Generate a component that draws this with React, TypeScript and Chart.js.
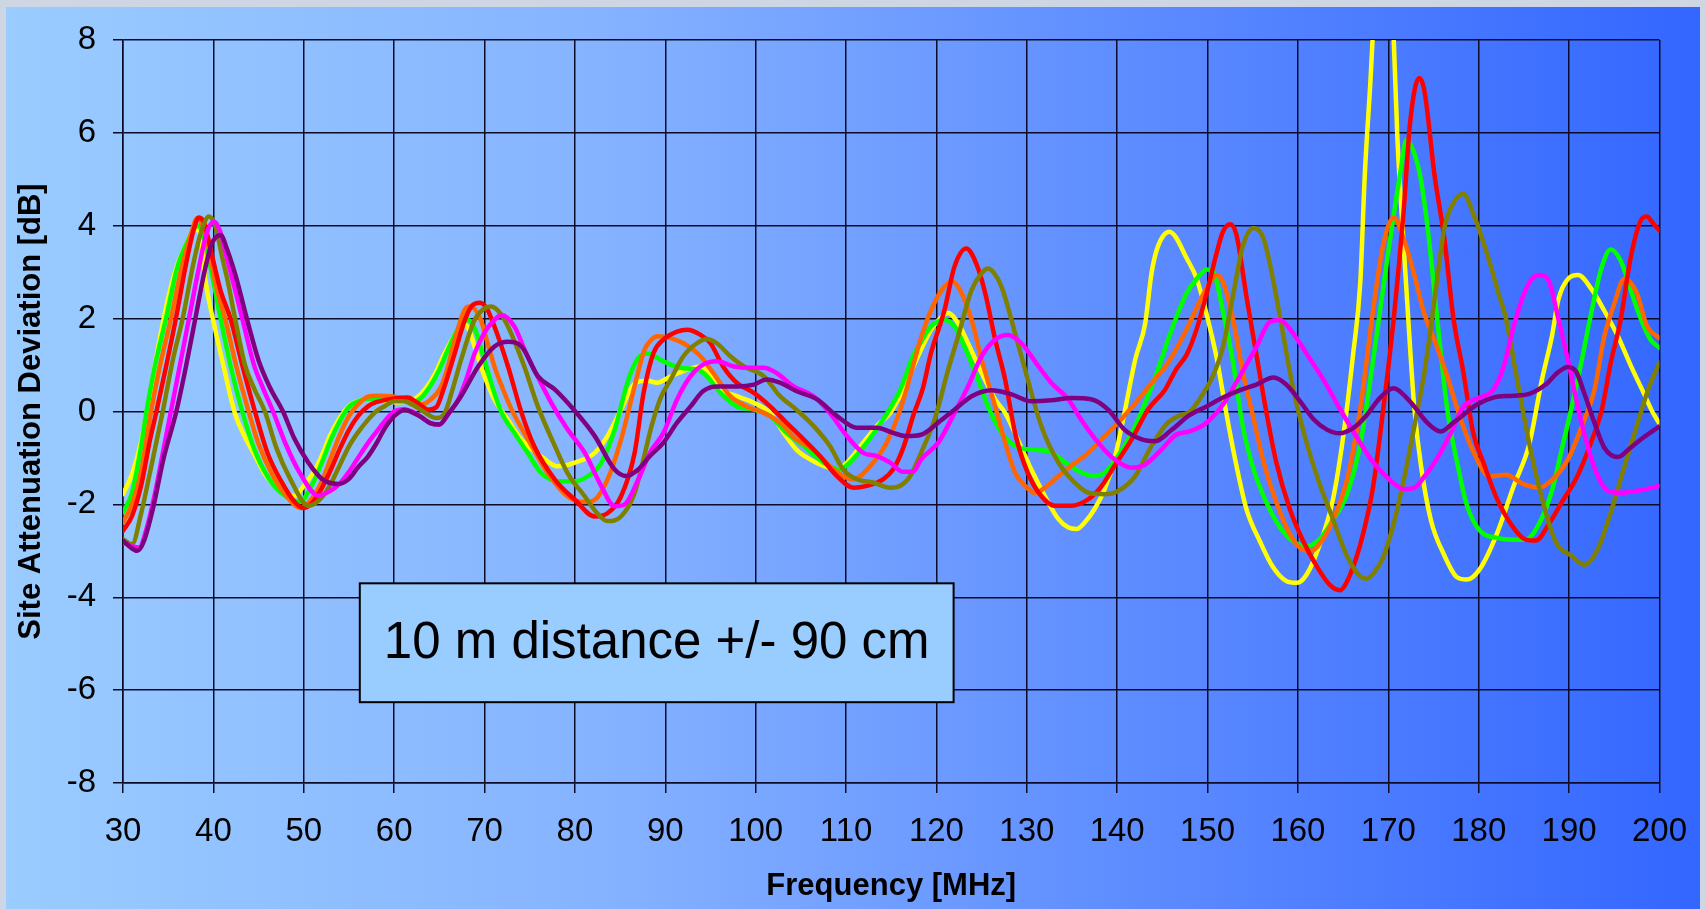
import React, { useEffect, useRef } from 'react';
import { Chart, registerables } from 'chart.js';

Chart.register(...registerables);

// ---------- data (frequency MHz, deviation dB) ----------
const xTickStep = 10;
const yTickStep = 2;
const xMin = 30;
const xMax = 200;
const yMin = -8;
const yMax = 8;

const xTitle = 'Frequency [MHz]';
const yTitle = 'Site Attenuation Deviation [dB]';
const boxText = '10 m distance +/- 90 cm';

const seriesNames = ['d1', 'd2', 'd3', 'd4', 'd5', 'd6', 'd7'];
const seriesColors = ['#ffff00', '#00ff00', '#ff6600', '#ff0000', '#808000', '#ff00ff', '#800080'];

const yellow: [number, number][] = [
  [30, -1.78], [31, -1.35], [32, -0.65], [33, 0.4], [34, 1.5], [35, 2.45], [36, 3.15], [37, 3.6], [38, 3.92], [38.6, 3.8],
  [39.1, 2.85], [40, 1.95], [41.1, 1.0], [42.4, -0.05], [43.5, -0.55], [44.6, -0.95], [45.7, -1.35], [46.8, -1.6], [47.9, -1.78], [49, -1.82],
  [50, -1.6], [51.2, -1.27], [52, -0.95], [53, -0.48], [54.9, 0.1], [56.3, 0.24], [58, 0.27], [60, 0.2], [61.5, 0.22], [62.5, 0.3],
  [63.5, 0.5], [64.5, 0.8], [65.6, 1.26], [67.1, 1.76], [67.8, 1.88], [68.4, 1.7], [68.9, 1.4], [70, 0.76], [71.1, 0.26], [72.6, -0.18],
  [74.1, -0.61], [76.3, -0.97], [78.1, -1.18], [80, -1.1], [82.2, -0.89], [83.6, -0.53], [85.1, 0.04], [86.6, 0.6], [88, 0.66], [89.1, 0.62],
  [90.6, 0.76], [92, 0.87], [93.9, 0.97], [94.6, 0.9], [95.7, 0.54], [97.9, 0.33], [99.8, 0.19], [101.6, -0.03], [103.1, -0.46], [104.5, -0.82],
  [106, -1.03], [107.5, -1.17], [109, -1.25], [110.1, -1.1], [111.9, -0.67], [113.4, -0.31], [114.9, -0.03], [116.3, 0.47], [117.8, 1.12], [119.4, 1.76],
  [120.6, 2.04], [121.3, 2.12], [122.4, 1.9], [123.5, 1.47], [125, 0.83], [126.5, 0.26], [127.6, -0.03], [129, -0.6], [130.5, -1.25], [132, -1.82],
  [133.5, -2.32], [134.6, -2.5], [135.5, -2.53], [136.4, -2.39], [137.5, -2.1], [138.6, -1.68], [139.7, -1.03], [140.8, -0.03], [142, 1.12], [143.1, 1.9],
  [143.8, 2.98], [144.5, 3.55], [145.8, 3.87], [146.5, 3.75], [147.6, 3.33], [148.8, 2.86], [149.9, 2.09], [151, 1.16], [152.1, -0.06], [153.2, -1.17],
  [154.3, -2.1], [155.8, -2.8], [157.2, -3.34], [158.7, -3.65], [159.9, -3.69], [161, -3.5], [162.4, -2.87], [163.9, -1.87], [165, -0.55], [166.1, 1.23],
  [166.9, 2.79], [167.4, 5.11], [168, 7.05], [168.6, 9.2], [169.4, 10.8], [170.1, 9.8], [170.6, 8.0], [171, 5.9], [171.7, 3.56], [172.4, 1.39],
  [172.9, 0.02], [173.6, -1.15], [174.7, -2.33], [176.2, -3.1], [177.6, -3.57], [178.7, -3.62], [180.1, -3.4], [182, -2.64], [183.8, -1.64], [185.6, -0.7],
  [187, 0.69], [188.1, 1.62], [188.8, 2.4], [189.9, 2.86], [191, 2.94], [192.5, 2.63], [193.9, 2.17], [195.4, 1.62], [196.8, 1.0], [198.3, 0.38],
  [199.2, 0.0], [200, -0.26],
];

const green: [number, number][] = [
  [30, -2.17], [31, -1.75], [32, -0.75], [32.6, 0], [33.5, 0.95], [34.75, 2.0], [36, 3.1], [37, 3.6], [38.3, 4.0], [39, 3.7],
  [40, 2.8], [40.8, 2.0], [42, 0.9], [43.2, 0], [44.5, -0.8], [46, -1.4], [47.5, -1.75], [49.5, -1.95], [51, -1.55], [52, -1.1],
  [53, -0.6], [54, -0.2], [55, 0.1], [56.3, 0.24], [58, 0.28], [60, 0.29], [61, 0.27], [62.3, 0.22], [63, 0.3], [64, 0.55],
  [65, 0.9], [66, 1.35], [67, 1.75], [68.2, 1.97], [69, 1.75], [69.7, 1.3], [70.2, 0.97], [71, 0.45], [71.9, -0.03], [73.3, -0.46],
  [74.8, -0.9], [76.3, -1.33], [78.1, -1.5], [80, -1.5], [81.4, -1.4], [82.9, -1.11], [84.4, -0.39], [85.9, 0.68], [87, 1.15], [88, 1.25],
  [89.8, 1.08], [91.7, 0.94], [93.5, 0.9], [94.6, 0.76], [96.1, 0.4], [97.9, 0.11], [99.8, 0.04], [101.6, -0.1], [103.4, -0.46], [105.3, -0.74],
  [107.5, -1.1], [109.3, -1.25], [110.4, -1.1], [112.3, -0.67], [114.1, -0.17], [116, 0.47], [117.4, 1.19], [118.3, 1.5], [119.4, 1.83], [120.9, 1.97],
  [122, 1.83], [123.1, 1.4], [124.6, 0.69], [125.7, 0.11], [127.2, -0.46], [128.7, -0.74], [130.5, -0.82], [132.4, -0.85], [133.8, -1.03], [135.7, -1.28],
  [137.5, -1.39], [138.6, -1.32], [140.1, -0.96], [142, -0.31], [143.4, 0.33], [144.5, 0.9], [146, 1.75], [147.7, 2.55], [148.8, 2.86], [149.9, 3.06],
  [150.6, 3.02], [151.7, 2.16], [152.8, 1.08], [153.9, -0.32], [155.1, -1.25], [156.5, -1.95], [158, -2.49], [159.5, -2.8], [161, -2.9], [162.4, -2.75],
  [163.9, -2.33], [165.4, -1.79], [166.9, -0.7], [168.3, 1.08], [169.8, 3.17], [171.3, 5.11], [172, 5.85], [172.8, 5.6], [173.6, 5.0], [174.4, 3.87],
  [175.4, 2.01], [176.5, 0.07], [177.6, -1.09], [178.7, -2.02], [180.1, -2.56], [182, -2.72], [183.8, -2.76], [185.2, -2.76], [186.7, -2.41], [188.1, -1.71],
  [189.2, -0.8], [190.3, 0.1], [191.4, 1.1], [192.5, 2.17], [193.6, 3.1], [194.6, 3.49], [195.7, 3.25], [196.8, 2.63], [197.9, 2.01], [199, 1.55],
  [200, 1.37],
];

const orange: [number, number][] = [
  [30, -2.39], [31, -2.0], [32, -1.3], [33.1, 0], [34, 0.9], [35.3, 2.0], [36.5, 3.1], [37.5, 3.8], [38.2, 4.16], [38.8, 4.0],
  [39.5, 3.5], [40.3, 2.7], [41.3, 2.0], [42.5, 1.0], [43.9, 0], [45, -0.7], [46.5, -1.35], [48, -1.8], [49.7, -2.08], [51, -1.85],
  [52, -1.5], [53, -1.0], [54, -0.5], [55, -0.1], [56, 0.15], [57.1, 0.32], [58, 0.34], [60, 0.32], [61.5, 0.25], [63, 0.15],
  [64, 0.25], [65.2, 0.54], [66, 1.0], [66.7, 1.54], [67.8, 2.19], [68.4, 2.26], [69.6, 1.97], [70.3, 1.5], [71.1, 0.97], [72, 0.5],
  [73, 0.04], [74.8, -0.6], [77, -1.33], [79.2, -1.83], [81.1, -1.95], [82.2, -1.9], [83.6, -1.47], [85.1, -0.61], [86.6, 0.54], [87.7, 1.33],
  [88.5, 1.55], [89.1, 1.62], [90.6, 1.58], [92, 1.47], [93.9, 1.19], [95.3, 0.83], [97.2, 0.33], [99, 0.11], [100.9, -0.03], [102.7, -0.24],
  [104.5, -0.6], [106.4, -0.82], [108.2, -1.17], [109.7, -1.39], [110.8, -1.46], [112.7, -1.17], [114.5, -0.67], [116, 0.04], [117.3, 0.9], [118, 1.4],
  [119.1, 2.04], [120.6, 2.62], [121.7, 2.8], [122.6, 2.62], [123.9, 1.97], [125, 1.12], [126.5, 0.11], [127.6, -0.67], [128.7, -1.32], [129.8, -1.6],
  [130.9, -1.75], [132, -1.64], [133.5, -1.39], [134.9, -1.17], [136.8, -0.89], [138.6, -0.53], [140.1, -0.24], [142, 0.18], [143.8, 0.61], [145.6, 1.04],
  [147.5, 1.7], [149.2, 2.4], [150.3, 2.79], [151, 2.94], [151.7, 2.79], [152.8, 2.01], [153.9, 0.85], [155.1, -0.16], [156.2, -1.09], [157.6, -1.95],
  [159.1, -2.64], [160.6, -2.98], [161.5, -3.0], [162.4, -2.85], [163.9, -2.33], [165.4, -1.48], [166.9, 0.07], [168.3, 2.17], [169.4, 3.56], [170.6, 4.18],
  [171.7, 3.72], [172.8, 3.0], [174, 2.09], [175.1, 1.54], [176.5, 0.77], [178, -0.16], [179.4, -0.86], [181.2, -1.4], [183, -1.36], [184.9, -1.56],
  [186.7, -1.64], [188.1, -1.48], [189.9, -1.02], [191.4, -0.32], [192.8, 0.46], [193.9, 1.62], [195, 2.32], [196.1, 2.86], [197.5, 2.55], [198.6, 1.85],
  [200, 1.58],
];

const red: [number, number][] = [
  [30, -2.57], [31, -2.25], [32, -1.6], [33, -0.6], [33.7, 0], [34.8, 1.0], [35.85, 2.0], [37, 3.2], [37.8, 3.9], [38.4, 4.18],
  [39, 4.05], [39.8, 3.4], [40.8, 2.6], [41.9, 2.0], [43.2, 1.0], [44.6, 0], [46, -0.9], [47.5, -1.5], [49, -1.95], [50, -2.08],
  [51, -1.95], [52, -1.65], [53, -1.25], [54, -0.8], [55, -0.4], [56, -0.1], [57.1, 0.11], [58, 0.2], [60, 0.28], [61.5, 0.3],
  [62.5, 0.2], [63.8, 0.04], [64.7, 0.1], [65.5, 0.5], [66.7, 1.25], [67.7, 1.9], [68.5, 2.25], [69.5, 2.34], [70.3, 2.2], [71.1, 1.83],
  [72.6, 0.97], [74.1, -0.03], [75.5, -0.75], [77.8, -1.47], [80, -1.9], [82.2, -2.26], [83.6, -2.19], [85.1, -1.83], [86.6, -0.9], [87.6, 0.4],
  [88.7, 1.26], [89.8, 1.55], [91.3, 1.72], [92.4, 1.76], [93.9, 1.65], [95, 1.47], [96.4, 0.97], [97.9, 0.62], [99.8, 0.4], [101.6, 0.11],
  [103.4, -0.24], [105.3, -0.6], [107.1, -0.96], [109, -1.39], [110.8, -1.64], [112.3, -1.6], [114.1, -1.46], [115.2, -1.25], [116.3, -0.8], [117.5, -0.05],
  [118.5, 0.5], [119.4, 1.26], [120.9, 2.19], [122, 3.12], [123.3, 3.51], [124.4, 3.19], [125.4, 2.55], [126.5, 1.55], [127.6, 0.69], [128.7, -0.46],
  [130.1, -1.32], [131.6, -1.82], [133.1, -2.03], [134.9, -2.03], [136.8, -1.89], [138.3, -1.6], [139.7, -1.17], [141.6, -0.6], [143.4, 0.04], [145.3, 0.47],
  [146.5, 0.9], [147.7, 1.23], [148.8, 1.78], [149.9, 2.55], [151, 3.41], [151.7, 3.87], [152.5, 4.03], [153.2, 3.8], [154.3, 2.48], [155.4, 1.23],
  [156.5, -0.01], [157.6, -1.09], [159.1, -2.1], [160.6, -2.8], [162.1, -3.34], [163.5, -3.73], [164.6, -3.85], [165.8, -3.5], [167.2, -2.64], [168.3, -1.64],
  [169.4, -0.01], [170.6, 2.01], [171.7, 4.34], [172.4, 6.2], [173.4, 7.18], [174, 6.9], [175.1, 5.11], [176.2, 3.72], [177.2, 2.01], [178.3, 0.85],
  [179.4, -0.47], [180.5, -1.09], [182, -1.87], [183.8, -2.49], [185.2, -2.76], [186.3, -2.78], [187.8, -2.41], [189.2, -1.95], [190.9, -1.4], [192.5, -0.63],
  [193.6, 0.02], [194.6, 1.04], [195.7, 1.97], [196.8, 3.3], [197.9, 4.1], [198.6, 4.2], [199.3, 4.05], [200, 3.9],
];

const olive: [number, number][] = [
  [30, -2.75], [31, -2.86], [32, -2.2], [33, -1.3], [34.4, 0], [35.5, 1.1], [36.6, 2.0], [37.8, 3.2], [38.7, 3.9], [39.5, 4.2],
  [40.2, 4.0], [41, 3.3], [41.6, 2.8], [42.4, 2.0], [43.5, 1.0], [44.5, 0.5], [45.7, 0], [47, -0.8], [48.5, -1.45], [50.5, -2.03],
  [52, -1.85], [53, -1.55], [54, -1.15], [55, -0.75], [56, -0.45], [57.1, -0.18], [58, 0.0], [59, 0.12], [60, 0.22], [61, 0.22],
  [62, 0.15], [63, 0.03], [64.7, -0.14], [65.6, -0.03], [66.5, 0.5], [67.4, 1.11], [68.9, 1.97], [70, 2.22], [70.75, 2.26], [71.8, 2.1],
  [72.6, 1.83], [74.4, 0.97], [75.9, 0.11], [77.8, -0.75], [79.2, -1.33], [81.1, -1.83], [82.5, -2.2], [83.6, -2.36], [85.1, -2.26], [86.6, -1.76],
  [87.5, -1.1], [88.5, -0.3], [89.5, 0.3], [90.6, 0.69], [92, 1.19], [93.5, 1.47], [94.6, 1.56], [95.7, 1.47], [97.2, 1.19], [98.7, 0.97],
  [100.9, 0.76], [102.7, 0.33], [104.5, 0.04], [106.4, -0.31], [108.2, -0.74], [109.7, -1.25], [111.2, -1.46], [113, -1.53], [114.9, -1.64], [116, -1.6],
  [117.1, -1.39], [118.3, -0.89], [119.8, -0.17], [121.3, 0.9], [122.4, 1.62], [123.9, 2.62], [125, 2.98], [125.7, 3.08], [126.3, 3.0], [127.2, 2.69],
  [128.7, 1.69], [130.1, 0.69], [131.6, -0.31], [133.5, -1.1], [135.3, -1.53], [136.8, -1.75], [138.6, -1.78], [140.1, -1.71], [142, -1.39], [143.8, -0.74],
  [145.6, -0.24], [147, -0.08], [148, -0.01], [149.5, 0.38], [150.6, 0.77], [151.7, 1.39], [152.8, 2.48], [153.9, 3.56], [155.1, 3.95], [156.2, 3.72],
  [157.3, 2.79], [158.4, 1.62], [159.5, 0.46], [161, -0.7], [162.4, -1.56], [163.9, -2.33], [165.4, -3.1], [166.9, -3.55], [167.6, -3.6], [168.5, -3.45],
  [169.4, -3.15], [170.6, -2.41], [171.7, -1.48], [172.8, -0.4], [174, 0.85], [175.1, 2.4], [176.2, 3.95], [177.2, 4.49], [178.3, 4.69], [179.4, 4.26],
  [180.9, 3.41], [182.3, 2.48], [183, 2.01], [184.1, 0.85], [185.6, -0.7], [187, -1.87], [188.5, -2.8], [190.3, -3.11], [191.7, -3.3], [193.2, -2.95],
  [194.6, -2.18], [196.1, -1.2], [197.5, -0.3], [198.8, 0.5], [200, 1.05],
];

const magenta: [number, number][] = [
  [30, -2.82], [31, -2.9], [31.8, -2.93], [32.5, -2.6], [33.5, -1.8], [34.5, -0.8], [35.3, 0], [36.3, 1.0], [37.3, 2.0], [38.3, 3.0],
  [39.2, 3.8], [40.05, 4.09], [40.7, 3.9], [41.5, 3.3], [42.3, 2.7], [43.2, 2.0], [44.5, 1.0], [45.5, 0.5], [46.6, 0], [48, -0.7],
  [49.5, -1.3], [51.6, -1.81], [53, -1.7], [54, -1.55], [55, -1.3], [56, -1.0], [57.1, -0.68], [58, -0.45], [59, -0.2], [60, 0.0],
  [61, 0.05], [62, 0.0], [63, -0.12], [64, -0.25], [65, -0.28], [66, -0.05], [67.1, 0.26], [68, 0.7], [68.9, 1.25], [70, 1.7],
  [70.75, 1.9], [71.9, 2.08], [73.3, 1.83], [74.5, 1.3], [75.5, 0.9], [77.4, 0.18], [79.2, -0.39], [81.1, -0.89], [82.9, -1.6], [84.4, -2.04],
  [85.5, -2.0], [87, -1.47], [88.3, -0.89], [89.8, -0.46], [91.3, 0.26], [92.8, 0.76], [94.2, 1.01], [95.7, 1.08], [97.6, 0.97], [99.4, 0.94],
  [100.9, 0.94], [102.3, 0.83], [104.2, 0.54], [106.4, 0.33], [108.2, -0.03], [110.1, -0.53], [111.9, -0.89], [113.4, -0.96], [114.9, -1.1], [116.3, -1.3],
  [117.4, -1.3], [118.3, -1.03], [120.2, -0.67], [122, -0.03], [123.5, 0.54], [125, 1.19], [126.5, 1.55], [127.9, 1.65], [129.4, 1.47], [131.3, 0.97],
  [132.7, 0.62], [134.6, 0.26], [136, -0.17], [137.9, -0.67], [139.7, -1.03], [141.6, -1.21], [143.1, -1.14], [144.9, -0.82], [146.5, -0.5], [148, -0.43],
  [149.9, -0.24], [151.7, 0.15], [153.6, 0.77], [155.4, 1.39], [156.9, 1.93], [158, 1.97], [159.1, 1.78], [161, 1.23], [162.8, 0.69], [164.6, 0.07],
  [166.5, -0.55], [168.3, -1.09], [170.2, -1.48], [171.7, -1.67], [172.9, -1.64], [174, -1.4], [175.4, -1.01], [176.9, -0.47], [178.3, 0.1], [180.1, 0.3],
  [181.6, 0.46], [182.7, 0.93], [183.8, 1.78], [184.9, 2.48], [185.9, 2.86], [186.8, 2.94], [187.8, 2.79], [188.8, 2.01], [189.9, 1.08], [191, 0.07],
  [192.1, -0.78], [193.2, -1.4], [194.3, -1.71], [195.7, -1.75], [197.2, -1.72], [198.3, -1.68], [200, -1.6],
];

const purple: [number, number][] = [
  [30, -2.78], [31, -2.95], [31.6, -3.0], [32.3, -2.8], [33.3, -2.1], [34.5, -1.0], [35.9, 0], [37, 1.0], [38, 2.0], [39, 3.0],
  [39.8, 3.6], [40.8, 3.8], [41.5, 3.5], [42.5, 2.9], [43.7, 2.0], [45, 1.1], [46.3, 0.5], [47.7, 0], [49, -0.6], [50.5, -1.1],
  [52, -1.45], [53.8, -1.56], [55, -1.45], [56, -1.2], [57.1, -0.97], [58, -0.7], [59, -0.35], [60, -0.1], [61.2, 0.04], [62, -0.02],
  [63, -0.12], [64, -0.25], [65, -0.28], [66, -0.05], [67.4, 0.33], [69.3, 0.97], [71.1, 1.4], [72.6, 1.5], [74.1, 1.4], [75.9, 0.76],
  [77.8, 0.47], [80, 0.01], [82.2, -0.53], [84.4, -1.25], [85.7, -1.39], [87, -1.25], [88.3, -0.96], [89.8, -0.67], [91.3, -0.24], [92.8, 0.11],
  [94.2, 0.44], [95.7, 0.54], [97.9, 0.54], [99.8, 0.58], [101.2, 0.69], [102.7, 0.62], [104.5, 0.44], [106.8, 0.26], [109, -0.1], [111.2, -0.35],
  [113.4, -0.35], [115.2, -0.46], [116.7, -0.53], [118.3, -0.5], [120.2, -0.24], [122, 0.04], [123.9, 0.33], [126.1, 0.46], [128.3, 0.37], [130.5, 0.22],
  [132.7, 0.24], [134.9, 0.29], [137.2, 0.26], [139, 0.04], [140.8, -0.39], [142.7, -0.6], [144.2, -0.64], [146, -0.4], [148, -0.08], [149.9, 0.11],
  [151.7, 0.3], [153.6, 0.46], [155.4, 0.58], [157.3, 0.73], [158.7, 0.58], [160.2, 0.23], [161.7, -0.16], [163.2, -0.39], [164.6, -0.47], [166.1, -0.36],
  [167.6, -0.08], [169.1, 0.3], [170.6, 0.5], [172, 0.3], [172.9, 0.1], [174.3, -0.24], [175.8, -0.43], [177.2, -0.24], [178.7, -0.01], [179.8, 0.15],
  [181.6, 0.3], [183.8, 0.34], [185.6, 0.38], [187.4, 0.58], [188.8, 0.85], [189.9, 0.96], [190.8, 0.85], [191.7, 0.38], [192.8, -0.24], [193.9, -0.78],
  [195.4, -0.98], [196.8, -0.78], [198.3, -0.55], [200, -0.32],
];

const allSeries = [yellow, green, orange, red, olive, magenta, purple];

// annotation box corners in data units
const boxF0 = 56.2;
const boxF1 = 121.9;
const boxV0 = -3.7;
const boxV1 = -6.26;

const FONT = '"Liberation Sans", Arial, Helvetica, sans-serif';
const W = 1706;
const H = 909;
const PLOT_LEFT = 123;
const PLOT_RIGHT = 1667;
const PLOT_TOP = 40;
const PLOT_BOTTOM = 783;

const boxPlugin = {
  id: 'textBox',
  afterDraw(chart: any) {
    const { ctx, scales } = chart;
    const xs = scales.x;
    const ys = scales.y;
    const x0 = xs.getPixelForValue(boxF0);
    const x1 = xs.getPixelForValue(boxF1);
    const y0 = ys.getPixelForValue(boxV0);
    const y1 = ys.getPixelForValue(boxV1);
    ctx.save();
    ctx.fillStyle = '#99ccff';
    ctx.fillRect(x0, y0, x1 - x0, y1 - y0);
    ctx.lineWidth = 2;
    ctx.strokeStyle = '#000000';
    ctx.strokeRect(x0, y0, x1 - x0, y1 - y0);
    ctx.fillStyle = '#000000';
    ctx.font = `51px ${FONT}`;
    ctx.textAlign = 'center';
    ctx.textBaseline = 'middle';
    ctx.fillText(boxText, (x0 + x1) / 2, (y0 + y1) / 2 + 1);
    ctx.restore();
  },
};

export default function App() {
  const canvasRef = useRef<HTMLCanvasElement | null>(null);

  useEffect(() => {
    document.body.style.margin = '0';
    const canvas = canvasRef.current;
    if (!canvas) return;
    const gridColor = '#0c0c28';
    const n = allSeries.length;
    const chart = new Chart(canvas, {
      type: 'line',
      data: {
        datasets: allSeries.map((s, i) => ({
          label: seriesNames[i],
          data: s.map(([x, y]) => ({ x, y })),
          borderColor: seriesColors[i],
          backgroundColor: seriesColors[i],
          borderWidth: 4.5,
          pointRadius: 0,
          fill: false,
          order: n - 1 - i,
          cubicInterpolationMode: 'monotone' as const,
          borderCapStyle: 'round' as const,
          borderJoinStyle: 'round' as const,
        })),
      },
      options: {
        responsive: false,
        maintainAspectRatio: false,
        animation: false,
        devicePixelRatio: 1,
        layout: { padding: { top: PLOT_TOP, right: W - PLOT_RIGHT, left: 0, bottom: 0 } },
        plugins: {
          legend: { display: false },
          tooltip: { enabled: false },
        },
        scales: {
          x: {
            type: 'linear',
            min: xMin,
            max: xMax,
            afterFit(scale: any) {
              scale.height = H - PLOT_BOTTOM;
            },
            ticks: {
              stepSize: xTickStep,
              autoSkip: false,
              maxRotation: 0,
              color: '#000000',
              padding: 19,
              font: { family: FONT, size: 33 },
            },
            grid: { color: gridColor, lineWidth: 1.5, tickLength: 10, tickColor: gridColor },
            border: { display: true, color: gridColor, width: 1.5 },
            title: {
              display: true,
              text: xTitle,
              color: '#000000',
              font: { family: FONT, size: 31, weight: 'bold' },
              padding: { top: 0, bottom: 4 },
            },
          },
          y: {
            type: 'linear',
            min: yMin,
            max: yMax,
            afterFit(scale: any) {
              scale.width = PLOT_LEFT;
            },
            ticks: {
              stepSize: yTickStep,
              color: '#000000',
              padding: 17,
              font: { family: FONT, size: 33 },
            },
            grid: { color: gridColor, lineWidth: 1.5, tickLength: 10, tickColor: gridColor },
            border: { display: true, color: gridColor, width: 1.5 },
            title: {
              display: true,
              text: yTitle,
              color: '#000000',
              font: { family: FONT, size: 31, weight: 'bold' },
              padding: { top: 13, bottom: 0 },
            },
          },
        },
      },
      plugins: [boxPlugin],
    });
    return () => chart.destroy();
  }, []);

  return (
    <div style={{ position: 'relative', width: W, height: H, background: '#cdd6e2', overflow: 'hidden' }}>
      <div
        style={{
          position: 'absolute',
          left: 6,
          top: 7,
          width: 1694,
          height: H - 7,
          background: 'linear-gradient(to right, #9accff 0%, #86b3ff 35%, #5988ff 70%, #3366ff 100%)',
        }}
      />
      <canvas ref={canvasRef} width={W} height={H} style={{ position: 'absolute', left: 0, top: 0, display: 'block' }} />
    </div>
  );
}
